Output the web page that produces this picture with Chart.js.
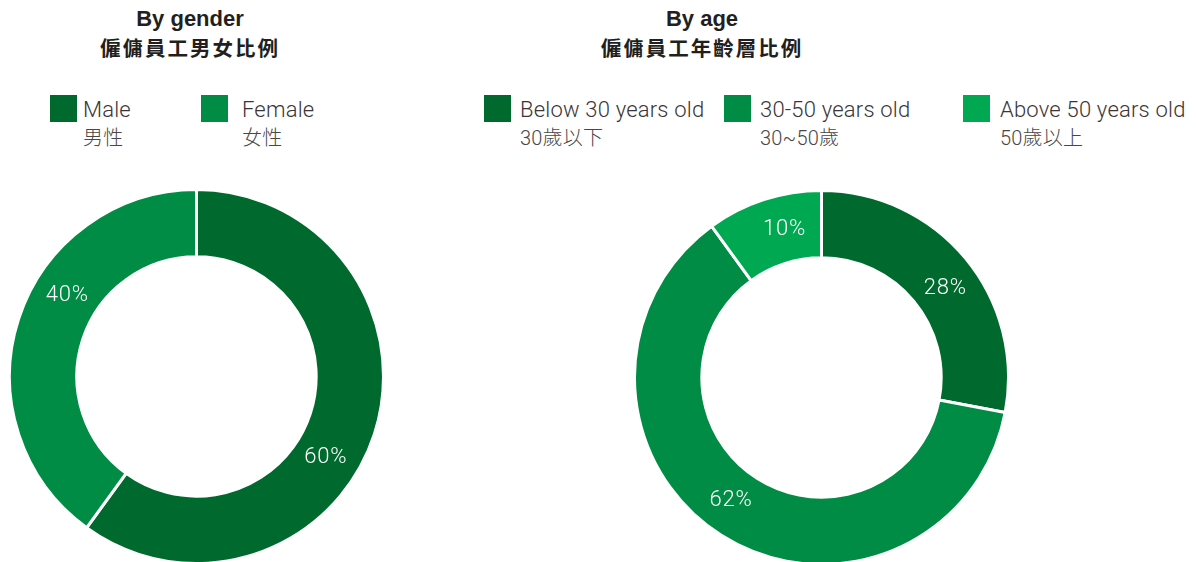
<!DOCTYPE html>
<html>
<head>
<meta charset="utf-8">
<script src="https://cdn.jsdelivr.net/npm/chart.js@4/dist/chart.umd.min.js"></script>
<style>
  html, body { margin: 0; padding: 0; background: #fff; }
  body { width: 1196px; height: 562px; position: relative; overflow: hidden; }
  .title { position: absolute; text-align: center; color: #231f20; font-weight: bold;
           font-family: "Liberation Sans", "Noto Sans CJK TC", sans-serif; }
  .title .en { font-size: 22px; line-height: 24px; }
  .title .zh { font-size: 20.5px; line-height: 24px; margin-top: 4px; letter-spacing: 2px;
               font-family: "Noto Sans CJK TC", sans-serif; font-weight: bold; }
  .leg { position: absolute; top: 95px; }
  .leg .box { position: absolute; left: 0; top: 0; width: 27px; height: 27px; }
  .leg .txt { position: absolute; top: 1px; white-space: nowrap; color: #3a3536;
              font-family: Roboto, "Noto Sans CJK TC", sans-serif; font-weight: 300;
              font-size: 22px; line-height: 28px; letter-spacing: 0.2px; }
  .leg .txt .zh { font-size: 20px; color: #4a4546; }
  canvas { position: absolute; }
</style>
</head>
<body>
<div class="title" style="left:70px;width:240px;top:7px">
  <div class="en">By gender</div><div class="zh">僱傭員工男女比例</div>
</div>
<div class="title" style="left:552px;width:300px;top:7px">
  <div class="en">By age</div><div class="zh">僱傭員工年齡層比例</div>
</div>
<div id="legGender"></div>
<div id="legAge"></div>
<canvas id="genderChart" width="377" height="377" style="left:8px;top:188px"></canvas>
<canvas id="ageChart" width="377" height="377" style="left:633px;top:189px"></canvas>
<script>
// data
var genderLabels = ['Male', 'Female'];
var genderLabelsZh = ['男性', '女性'];
var genderValues = [60, 40];

var ageLabels = ['Below 30 years old', '30-50 years old', 'Above 50 years old'];
var ageLabelsZh = ['30歲以下', '30~50歲', '50歲以上'];
var ageValues = [28, 62, 10];

var greens = ['#006a2e', '#008c44', '#00a851'];

// legends (html, two lines each)
function buildLegend(id, labels, labelsZh, lefts, textOffsets) {
    var holder = document.getElementById(id);
    labels.forEach(function (lab, i) {
        var item = document.createElement('div');
        item.className = 'leg';
        item.style.left = lefts[i] + 'px';
        item.innerHTML = '<div class="box" style="background:' + greens[i] + '"></div>' +
            '<div class="txt" style="left:' + textOffsets[i] + 'px">' + lab +
            '<br><span class="zh">' + labelsZh[i] + '</span></div>';
        holder.appendChild(item);
    });
}
buildLegend('legGender', genderLabels, genderLabelsZh, [50, 201], [33, 41]);
buildLegend('legAge', ageLabels, ageLabelsZh, [484, 724, 963], [36, 36, 37]);

// percent text inside each slice, nudged clockwise a little like the original
var sliceText = {
    id: 'sliceText',
    afterDatasetsDraw(chart, args, options) {
        const { ctx } = chart;
        const meta = chart.getDatasetMeta(0);
        const values = chart.data.datasets[0].data;
        const shift = (options.shift || 0) * Math.PI / 180;
        ctx.save();
        ctx.font = '300 22px Roboto';
        ctx.letterSpacing = '0.8px';
        ctx.fillStyle = 'white';
        ctx.textAlign = 'center';
        ctx.textBaseline = 'middle';
        meta.data.forEach(function (arc, i) {
            const mid = (arc.startAngle + arc.endAngle) / 2 + shift;
            const r = (arc.innerRadius + arc.outerRadius) / 2 - 1;
            ctx.fillText(values[i] + '%', arc.x + Math.cos(mid) * r, arc.y + Math.sin(mid) * r);
        });
        ctx.restore();
    }
};

function donutConfig(labels, values, shift) {
    return {
        type: 'doughnut',
        data: {
            labels: labels,
            datasets: [{
                data: values,
                backgroundColor: greens.slice(0, values.length),
                borderColor: '#ffffff',
                borderWidth: 3,
                cutout: '64%'
            }]
        },
        options: {
            responsive: false,
            animation: false,
            plugins: {
                legend: { display: false },
                tooltip: { enabled: false },
                sliceText: { shift: shift }
            }
        },
        plugins: [sliceText]
    };
}

new Chart(document.getElementById('genderChart'), donutConfig(genderLabels, genderValues, 14));
new Chart(document.getElementById('ageChart'), donutConfig(ageLabels, ageValues, 4));
</script>
</body>
</html>
